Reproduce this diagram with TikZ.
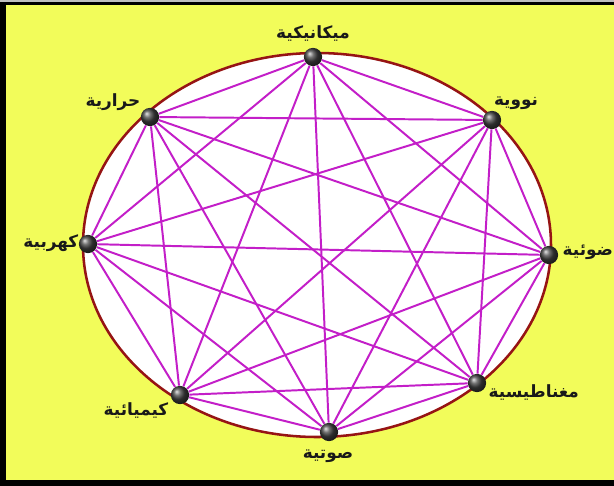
\documentclass[tikz,border=0pt]{standalone}
\usepackage{fontspec}
\TeXXeTstate=1
\newfontfamily\arabicfont[Script=Arabic]{DejaVu Sans}
\definecolor{paper}{RGB}{242,252,90}
\definecolor{rim}{RGB}{150,20,20}
\definecolor{link}{RGB}{195,30,200}
\tikzset{
  energy/.style={circle, inner sep=0pt, minimum size=13, ball color=black!75},
  tag/.style={font=\arabicfont\bfseries\fontsize{12}{14}\selectfont, text=black!90, inner sep=1pt},
  wire/.style={link, line width=1.4pt}
}
\newcommand{\ar}[1]{\beginR #1\endR}

\begin{document}
\begin{tikzpicture}[x=0.025cm, y=-0.025cm]
            \clip (0,0) rectangle (614,486);
            \fill[black] (0,0) rectangle (614,486);
            \fill[black!25] (0,0) rectangle (614,2);
            \fill[paper] (6,5) rectangle (614,480);
            \draw[rim, line width=1.8pt, fill=white] (317,245) ellipse [x radius=234, y radius=192];

            \node[energy] (1) at (313,57) {};
            \node[energy] (2) at (492,120) {};
            \node[energy] (3) at (549,255) {};
            \node[energy] (4) at (477,383) {};
            \node[energy] (5) at (329,432) {};
            \node[energy] (6) at (180,395) {};
            \node[energy] (7) at (88,244) {};
            \node[energy] (8) at (150,117) {};

            \foreach \i in {1,...,7} {
                \pgfmathtruncatemacro{\k}{\i+1}
                \foreach \j in {\k,...,8} {
                    \draw[wire] (\i) -- (\j);
                }
            }

            \node[tag] (t1) at (313,33) {\ar{ميكانيكية}};
            \node[tag] (t2) at (516,103) {\ar{نووية}};
            \node[tag, anchor=west] (t3) at (561,252) {\ar{ضوئية}};
            \node[tag, anchor=west] (t4) at (487,392) {\ar{مغناطيسية}};
            \node[tag] (t5) at (328,456) {\ar{صوتية}};
            \node[tag] (t6) at (136,410) {\ar{كيميائية}};
            \node[tag, anchor=east] (t7) at (80,243) {\ar{كهربية}};
            \node[tag] (t8) at (113,102) {\ar{حرارية}};
        \end{tikzpicture}
\end{document}
